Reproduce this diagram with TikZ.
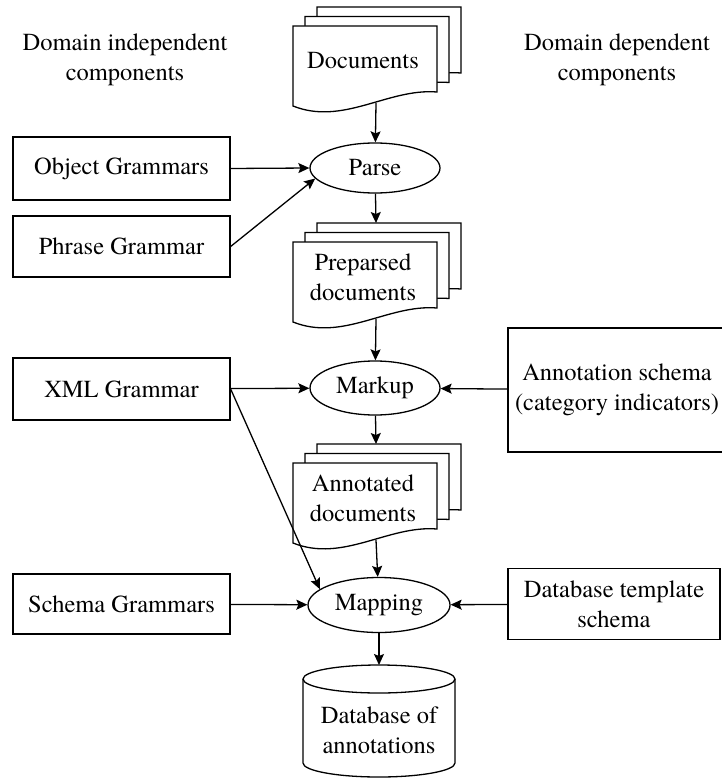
\documentclass[tikz,border=0pt]{standalone}
\usepackage{fontspec}
\setmainfont{texgyretermes}[Extension=.otf, UprightFont=*-regular, BoldFont=*-bold, ItalicFont=*-italic, BoldItalicFont=*-bolditalic]
\usetikzlibrary{arrows.meta,shapes.geometric}

% stack of three sheets: name, left x, top y, text
\newcommand{\docstack}[4]{%
  \foreach \d in {2,1}
    \draw[sheet,shift={(#2+12*\d,#3-9.5*\d)}] (0,0) -- (144,0) -- (144,66) .. controls (95,62) and (50,100) .. (0,80) -- cycle;
  \draw[sheet,shift={(#2,#3)}] (0,0) -- (144,0) -- (144,66) .. controls (95,62) and (50,100) .. (0,80) -- cycle;
  \node[align=center] (#1) at (#2+70,#3+35) {#4};
  \coordinate (#1-in) at (#2+83,#3-19);
  \coordinate (#1-out) at (#2+83,#3+77);
}

\begin{document}
\begin{tikzpicture}[x=1pt, y=-1pt, line width=1.3pt,
    >={Stealth[length=11pt,width=10pt,inset=2pt]},
    font=\fontsize{24.5}{30}\selectfont,
    sheet/.style={draw, fill=white, line join=miter},
    comp/.style={draw, fill=white, align=center, inner sep=2pt},
    proc/.style={draw, ellipse, fill=white, inner sep=0pt}]

        \useasboundingbox (0,0) rectangle (721,778);

        \node[align=center] at (125,60) (indep) {Domain independent\\components};
        \node[align=center] at (617,60) (dep) {Domain dependent\\components};

        \docstack{docs}{293}{26}{Documents}
        \docstack{prepdocs}{293}{242}{Preparsed\\documents}
        \docstack{anndocs}{293}{463}{Annotated\\documents}

        \node[proc, minimum width=130, minimum height=50] at (375,168) (parse) {Parse};
        \node[proc, minimum width=130, minimum height=54] at (375,388) (markup) {Markup};
        \node[proc, minimum width=142, minimum height=55] at (379,605) (mapping) {Mapping};

        \node[comp, minimum width=217, minimum height=63] at (121.5,168.5) (objgram) {Object Grammars};
        \node[comp, minimum width=217, minimum height=61] at (121.5,246.5) (phrgram) {Phrase Grammar};
        \node[comp, minimum width=217, minimum height=62] at (121.5,389) (xmlgram) {XML Grammar};
        \node[comp, minimum width=217, minimum height=60] at (121.5,604) (schgram) {Schema Grammars};

        \node[comp, minimum width=218, minimum height=124] at (617,390) (annschema) {Annotation schema\\(category indicators)};
        \node[comp, minimum width=212, minimum height=71] at (614,604) (dbtemplate) {Database template\\schema};

        % database cylinder
        \draw[fill=white] (303,679) -- (303,763) arc[start angle=180, end angle=0, x radius=76, y radius=14] -- (455,679);
        \draw (379,679) ellipse[x radius=76, y radius=14];
        \node[align=center] at (379,730) (db) {Database of\\annotations};
        \coordinate (dbtop) at (379,665);

        \draw[->] (docs-out) -- (parse);
        \draw[->] (objgram.east) -- (parse.west);
        \draw[->] (phrgram.east) -- (parse.190);
        \draw[->] (parse) -- (prepdocs-in);
        \draw[->] (prepdocs-out) -- (markup);
        \draw[->] (xmlgram) -- (markup);
        \draw[->] (annschema) -- (markup);
        \draw[->] (markup) -- (anndocs-in);
        \draw[->] (anndocs-out) -- (mapping);
        \draw[->] (xmlgram.east) -- (mapping.165);
        \draw[->] (schgram) -- (mapping);
        \draw[->] (dbtemplate) -- (mapping);
        \draw[->] (mapping) -- (dbtop);

    \end{tikzpicture}
\end{document}
